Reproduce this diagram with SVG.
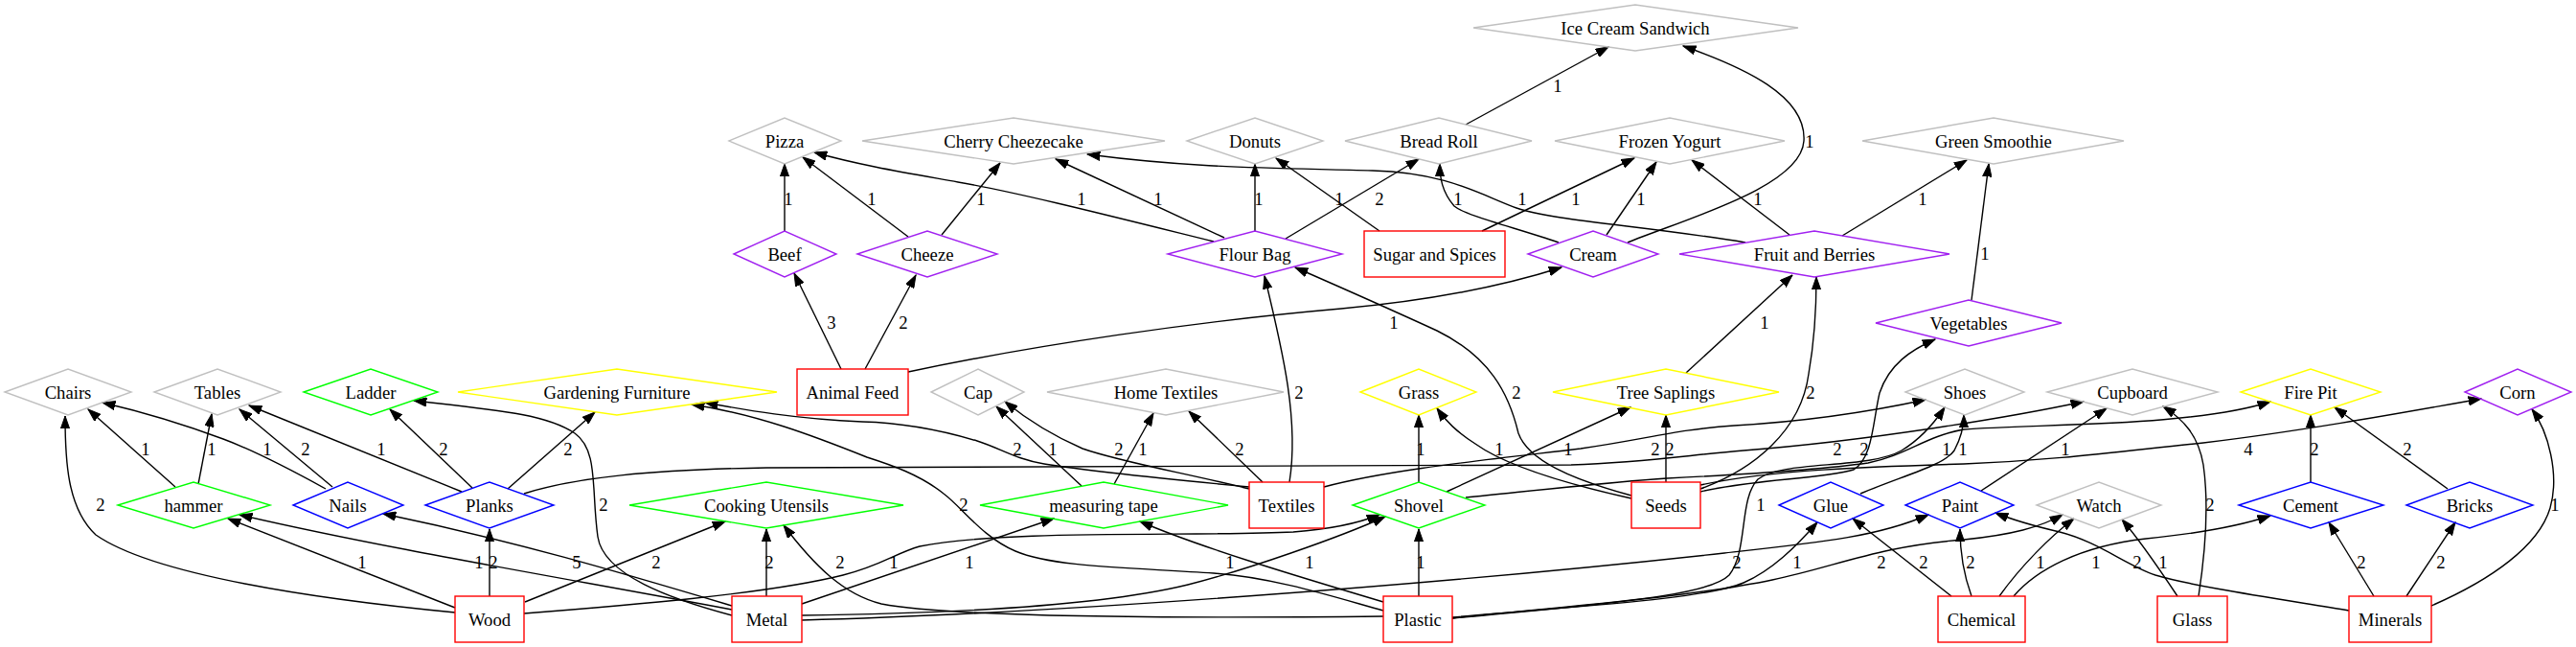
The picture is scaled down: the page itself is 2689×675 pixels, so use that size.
<svg xmlns="http://www.w3.org/2000/svg" width="2689" height="675" viewBox="0 0 2689 675">
<defs>
<style>
text{font-family:"Liberation Serif","Times New Roman",serif;font-size:18.67px;text-anchor:middle;fill:#000}
.nd polygon,.nd rect{fill:none;stroke-width:1.4}
.gray polygon{stroke:#c0c0c0}
.purple polygon{stroke:#a020f0}
.green polygon{stroke:#00ff00}
.blue polygon{stroke:#0000ff}
.yellow polygon{stroke:#ffff00}
.red rect{stroke:#ff0000}
#edges path{fill:none;stroke:#000;stroke-width:1.4;marker-end:url(#arr)}
</style>
<marker id="arr" viewBox="0 0 14 10" refX="13.3" refY="5" markerWidth="14" markerHeight="10" markerUnits="userSpaceOnUse" orient="auto"><path d="M0,0.33 L13.3,5 L0,9.67 z" fill="#000" stroke="#000" stroke-width="1"/></marker>
</defs>
<rect width="2689" height="675" fill="#fff"/>
<g id="edges">
<path d="M1530,130 L1679,49"/>
<path d="M1699,253 C1760,228 1880,195 1883,147 C1886,100 1820,70 1757,48"/>
<path d="M819,241 L819,171"/>
<path d="M948,247 L838,164"/>
<path d="M1267,252 C1170,228 1060,200 1000,190 C950,181 900,173 850,159"/>
<path d="M983,245 L1044,170"/>
<path d="M1278,248 L1102,166"/>
<path d="M1310,241 L1310,171"/>
<path d="M1822,253 C1720,236 1620,230 1583,217 C1545,203 1510,180 1433,178 C1330,175 1250,176 1135,161"/>
<path d="M1440,241 L1332,165"/>
<path d="M1342,249 L1481,166"/>
<path d="M1627,253 C1580,237 1530,225 1518,215 C1505,200 1503,185 1503,171"/>
<path d="M1547,241 L1706,165"/>
<path d="M1677,245 L1729,169"/>
<path d="M1868,245 L1766,167"/>
<path d="M1923,246 L2053,167"/>
<path d="M2058,313 L2076,171"/>
<path d="M878,385 L829,285"/>
<path d="M903,385 L956,287"/>
<path d="M948,388 C1080,360 1250,335 1400,322 C1500,313 1570,298 1630,279"/>
<path d="M1346,503 C1356,440 1340,370 1320,288"/>
<path d="M1703,517 C1640,500 1595,480 1585,452 C1575,410 1555,372 1500,345 C1450,322 1400,300 1352,279"/>
<path d="M1760,389 L1871,287"/>
<path d="M1775,510 C1830,490 1880,450 1888,390 C1895,350 1896,320 1896,289"/>
<path d="M1775,513 C1830,500 1900,500 1935,490 C1955,478 1955,440 1962,410 C1972,380 1995,365 2020,354"/>
<path d="M183,508 L92,427"/>
<path d="M340,510 C300,488 260,468 233,458 C190,442 150,430 107,420"/>
<path d="M475,639 C330,625 160,600 100,558 C70,530 68,480 68,434"/>
<path d="M207,505 L221,432"/>
<path d="M347,508 L250,427"/>
<path d="M482,513 L260,423"/>
<path d="M493,509 L407,427"/>
<path d="M764,642 C700,625 630,600 624,560 C617,510 625,470 600,452 C570,432 520,428 432,418"/>
<path d="M530,510 L621,430"/>
<path d="M1304,508 C1220,500 1140,492 1090,484 C1060,479 1045,468 1020,460 C980,448 940,441 900,440 C830,437 780,428 736,420"/>
<path d="M1444,637 C1400,625 1330,602 1267,598 C1180,592 1100,592 1060,575 C1025,560 1005,530 985,515 C960,495 930,485 905,477 C850,455 790,432 722,422"/>
<path d="M547,515 C600,498 680,490 800,488 C1000,486 1400,487 1640,485 C1720,482 1760,475 1820,470 C1950,460 2100,435 2175,419"/>
<path d="M1382,508 C1450,490 1550,480 1650,468 C1720,458 1750,448 1810,444 C1880,440 1950,430 2010,417"/>
<path d="M1516,645 C1650,630 1780,625 1805,600 C1825,575 1815,520 1835,500 C1860,480 1950,490 1985,470 C2005,458 2020,440 2030,425"/>
<path d="M1942,515 C1990,495 2030,485 2040,470 C2048,455 2050,445 2050,433"/>
<path d="M2295,622 C2303,570 2305,520 2300,485 C2295,455 2280,438 2258,424"/>
<path d="M2068,512 L2199,426"/>
<path d="M1530,519 C1600,512 1680,503 1740,499 C1800,496 1900,490 1950,483 C1990,475 2010,455 2050,448 C2130,442 2290,445 2370,419"/>
<path d="M1775,506 C1850,490 1950,487 2050,484 C2150,480 2220,470 2300,462 C2400,450 2500,432 2590,416"/>
<path d="M2412,503 L2412,433"/>
<path d="M2555,510 L2437,425"/>
<path d="M2538,632 C2600,605 2650,570 2662,530 C2672,495 2660,450 2643,427"/>
<path d="M475,634 L238,541"/>
<path d="M764,636 C600,605 400,572 250,537"/>
<path d="M764,632 C650,598 540,565 400,536"/>
<path d="M511,622 L511,552"/>
<path d="M548,628 L757,544"/>
<path d="M800,622 L800,552"/>
<path d="M1444,643 C1250,645 1000,645 920,630 C880,620 850,590 818,548"/>
<path d="M837,630 L1100,541"/>
<path d="M1444,628 C1350,600 1250,570 1190,544"/>
<path d="M547,640 C650,632 800,620 880,600 C920,590 935,577 960,570 C1050,552 1250,560 1350,555 C1390,552 1420,545 1440,537"/>
<path d="M837,642 C1000,640 1150,632 1240,610 C1300,595 1400,560 1446,539"/>
<path d="M1481,622 L1481,552"/>
<path d="M837,647 C1100,640 1500,610 1800,577 C1900,566 1960,560 2013,537"/>
<path d="M1516,644 C1650,632 1780,625 1820,608 C1850,595 1875,570 1897,545"/>
<path d="M1516,645 C1650,633 1780,620 1850,605 C1920,590 1960,570 2050,563 C2100,558 2130,550 2153,537"/>
<path d="M2037,622 L1934,541"/>
<path d="M2058,622 C2050,600 2046,580 2046,552"/>
<path d="M2087,622 C2110,590 2140,560 2165,541"/>
<path d="M2102,622 C2125,595 2170,570 2240,562 C2300,556 2340,548 2370,538"/>
<path d="M2452,637 C2380,625 2290,612 2250,600 C2220,590 2190,565 2150,555 C2120,548 2100,542 2083,535"/>
<path d="M2273,622 C2255,595 2235,565 2215,542"/>
<path d="M2478,622 L2431,545"/>
<path d="M2512,622 L2563,545"/>
<path d="M1703,520 C1640,506 1575,488 1540,463 C1520,450 1510,440 1500,426"/>
<path d="M1481,503 L1481,433"/>
<path d="M1510,513 L1702,425"/>
<path d="M1739,503 L1739,433"/>
<path d="M1304,510 C1230,492 1170,482 1130,468 C1100,455 1075,440 1049,419"/>
<path d="M1129,507 L1040,424"/>
<path d="M1163,505 L1204,431"/>
<path d="M1318,503 L1241,429"/>
</g>
<g id="edge-labels">
<text x="1626" y="96">1</text>
<text x="1889" y="154">1</text>
<text x="823" y="214">1</text><text x="910" y="214">1</text><text x="1024" y="214">1</text><text x="1129" y="214">1</text><text x="1209" y="214">1</text><text x="1314" y="214">1</text><text x="1398" y="214">1</text><text x="1440" y="214">2</text><text x="1522" y="214">1</text><text x="1589" y="214">1</text><text x="1645" y="214">1</text><text x="1713" y="214">1</text><text x="1835" y="214">1</text><text x="2007" y="214">1</text>
<text x="2072" y="271">1</text>
<text x="868" y="343">3</text><text x="943" y="343">2</text><text x="1455" y="343">1</text><text x="1842" y="343">1</text>
<text x="1356" y="416">2</text><text x="1583" y="416">2</text><text x="1890" y="416">2</text>
<text x="152" y="475">1</text><text x="221" y="475">1</text><text x="279" y="475">1</text><text x="319" y="475">2</text><text x="398" y="475">1</text><text x="463" y="475">2</text><text x="593" y="475">2</text><text x="1062" y="475">2</text><text x="1099" y="475">1</text><text x="1168" y="475">2</text><text x="1193" y="475">1</text><text x="1294" y="475">2</text><text x="1483" y="475">1</text><text x="1565" y="475">1</text><text x="1637" y="475">1</text><text x="1728" y="475">2</text><text x="1743" y="475">2</text><text x="1918" y="475">2</text><text x="1946" y="475">2</text><text x="2032" y="475">1</text><text x="2049" y="475">1</text><text x="2156" y="475">1</text><text x="2347" y="475">4</text><text x="2416" y="475">2</text><text x="2513" y="475">2</text>
<text x="105" y="533">2</text><text x="630" y="533">2</text><text x="1006" y="533">2</text><text x="1838" y="533">1</text><text x="2307" y="533">2</text><text x="2667" y="533">1</text>
<text x="378" y="593">1</text><text x="500" y="593">1</text><text x="515" y="593">2</text><text x="602" y="593">5</text><text x="685" y="593">2</text><text x="803" y="593">2</text><text x="877" y="593">2</text><text x="933" y="593">1</text><text x="1012" y="593">1</text><text x="1284" y="593">1</text><text x="1367" y="593">1</text><text x="1483" y="593">1</text><text x="1813" y="593">2</text><text x="1876" y="593">1</text><text x="1964" y="593">2</text><text x="2008" y="593">2</text><text x="2057" y="593">2</text><text x="2130" y="593">1</text><text x="2188" y="593">1</text><text x="2231" y="593">2</text><text x="2258" y="593">1</text><text x="2465" y="593">2</text><text x="2548" y="593">2</text>
</g>
<g id="n-ice" class="nd gray"><polygon points="1538,29 1707,5 1877,29 1707,53"/><text x="1707" y="35.5">Ice Cream Sandwich</text></g>
<g id="n-pizza" class="nd gray"><polygon points="761,147 819,123 878,147 819,171"/><text x="819" y="153.5">Pizza</text></g>
<g id="n-cherry" class="nd gray"><polygon points="900,147 1058,123 1216,147 1058,171"/><text x="1058" y="153.5">Cherry Cheezecake</text></g>
<g id="n-donuts" class="nd gray"><polygon points="1239,147 1310,123 1381,147 1310,171"/><text x="1310" y="153.5">Donuts</text></g>
<g id="n-bread" class="nd gray"><polygon points="1404,147 1502,123 1599,147 1502,171"/><text x="1502" y="153.5">Bread Roll</text></g>
<g id="n-froyo" class="nd gray"><polygon points="1623,147 1743,123 1863,147 1743,171"/><text x="1743" y="153.5">Frozen Yogurt</text></g>
<g id="n-smoothie" class="nd gray"><polygon points="1944,147 2081,123 2217,147 2081,171"/><text x="2081" y="153.5">Green Smoothie</text></g>
<g id="n-beef" class="nd purple"><polygon points="766,265 819,241 873,265 819,289"/><text x="819" y="271.5">Beef</text></g>
<g id="n-cheeze" class="nd purple"><polygon points="895,265 968,241 1041,265 968,289"/><text x="968" y="271.5">Cheeze</text></g>
<g id="n-flour" class="nd purple"><polygon points="1219,265 1310,241 1401,265 1310,289"/><text x="1310" y="271.5">Flour Bag</text></g>
<g id="n-sugar" class="nd red"><rect x="1424" y="241" width="147" height="48"/><text x="1497.5" y="271.5">Sugar and Spices</text></g>
<g id="n-cream" class="nd purple"><polygon points="1595,265 1663,241 1731,265 1663,289"/><text x="1663" y="271.5">Cream</text></g>
<g id="n-fruit" class="nd purple"><polygon points="1753,265 1894,241 2035,265 1894,289"/><text x="1894" y="271.5">Fruit and Berries</text></g>
<g id="n-veg" class="nd purple"><polygon points="1958,337 2055,313 2152,337 2055,361"/><text x="2055" y="343.5">Vegetables</text></g>
<g id="n-chairs" class="nd gray"><polygon points="5,409 71,385 137,409 71,433"/><text x="71" y="415.5">Chairs</text></g>
<g id="n-tables" class="nd gray"><polygon points="161,409 227,385 293,409 227,433"/><text x="227" y="415.5">Tables</text></g>
<g id="n-ladder" class="nd green"><polygon points="317,409 387,385 457,409 387,433"/><text x="387" y="415.5">Ladder</text></g>
<g id="n-garden" class="nd yellow"><polygon points="478,409 644,385 811,409 644,433"/><text x="644" y="415.5">Gardening Furniture</text></g>
<g id="n-feed" class="nd red"><rect x="832" y="385" width="116" height="48"/><text x="890" y="415.5">Animal Feed</text></g>
<g id="n-cap" class="nd gray"><polygon points="972,409 1021,385 1069,409 1021,433"/><text x="1021" y="415.5">Cap</text></g>
<g id="n-hometex" class="nd gray"><polygon points="1093,409 1217,385 1340,409 1217,433"/><text x="1217" y="415.5">Home Textiles</text></g>
<g id="n-grass" class="nd yellow"><polygon points="1420,409 1481,385 1541,409 1481,433"/><text x="1481" y="415.5">Grass</text></g>
<g id="n-saplings" class="nd yellow"><polygon points="1621,409 1739,385 1857,409 1739,433"/><text x="1739" y="415.5">Tree Saplings</text></g>
<g id="n-shoes" class="nd gray"><polygon points="1989,409 2051,385 2113,409 2051,433"/><text x="2051" y="415.5">Shoes</text></g>
<g id="n-cupboard" class="nd gray"><polygon points="2137,409 2226,385 2315,409 2226,433"/><text x="2226" y="415.5">Cupboard</text></g>
<g id="n-firepit" class="nd yellow"><polygon points="2339,409 2412,385 2485,409 2412,433"/><text x="2412" y="415.5">Fire Pit</text></g>
<g id="n-corn" class="nd purple"><polygon points="2573,409 2628,385 2684,409 2628,433"/><text x="2628" y="415.5">Corn</text></g>
<g id="n-hammer" class="nd green"><polygon points="123,527 202,503 282,527 202,551"/><text x="202" y="533.5">hammer</text></g>
<g id="n-nails" class="nd blue"><polygon points="306,527 363,503 421,527 363,551"/><text x="363" y="533.5">Nails</text></g>
<g id="n-planks" class="nd blue"><polygon points="444,527 511,503 578,527 511,551"/><text x="511" y="533.5">Planks</text></g>
<g id="n-cooking" class="nd green"><polygon points="657,527 800,503 943,527 800,551"/><text x="800" y="533.5">Cooking Utensils</text></g>
<g id="n-tape" class="nd green"><polygon points="1023,527 1152,503 1282,527 1152,551"/><text x="1152" y="533.5">measuring tape</text></g>
<g id="n-textiles" class="nd red"><rect x="1304" y="503" width="78" height="48"/><text x="1343" y="533.5">Textiles</text></g>
<g id="n-shovel" class="nd green"><polygon points="1412,527 1481,503 1550,527 1481,551"/><text x="1481" y="533.5">Shovel</text></g>
<g id="n-seeds" class="nd red"><rect x="1703" y="503" width="72" height="48"/><text x="1739" y="533.5">Seeds</text></g>
<g id="n-glue" class="nd blue"><polygon points="1857,527 1911,503 1966,527 1911,551"/><text x="1911" y="533.5">Glue</text></g>
<g id="n-paint" class="nd blue"><polygon points="1989,527 2046,503 2102,527 2046,551"/><text x="2046" y="533.5">Paint</text></g>
<g id="n-watch" class="nd gray"><polygon points="2126,527 2191,503 2256,527 2191,551"/><text x="2191" y="533.5">Watch</text></g>
<g id="n-cement" class="nd blue"><polygon points="2337,527 2412,503 2488,527 2412,551"/><text x="2412" y="533.5">Cement</text></g>
<g id="n-bricks" class="nd blue"><polygon points="2512,527 2578,503 2644,527 2578,551"/><text x="2578" y="533.5">Bricks</text></g>
<g id="n-wood" class="nd red"><rect x="475" y="622" width="72" height="48"/><text x="511" y="652.5">Wood</text></g>
<g id="n-metal" class="nd red"><rect x="764" y="622" width="73" height="48"/><text x="800.5" y="652.5">Metal</text></g>
<g id="n-plastic" class="nd red"><rect x="1444" y="622" width="72" height="48"/><text x="1480" y="652.5">Plastic</text></g>
<g id="n-chemical" class="nd red"><rect x="2023" y="622" width="91" height="48"/><text x="2068.5" y="652.5">Chemical</text></g>
<g id="n-glass" class="nd red"><rect x="2252" y="622" width="73" height="48"/><text x="2288.5" y="652.5">Glass</text></g>
<g id="n-minerals" class="nd red"><rect x="2452" y="622" width="86" height="48"/><text x="2495" y="652.5">Minerals</text></g>
</svg>
